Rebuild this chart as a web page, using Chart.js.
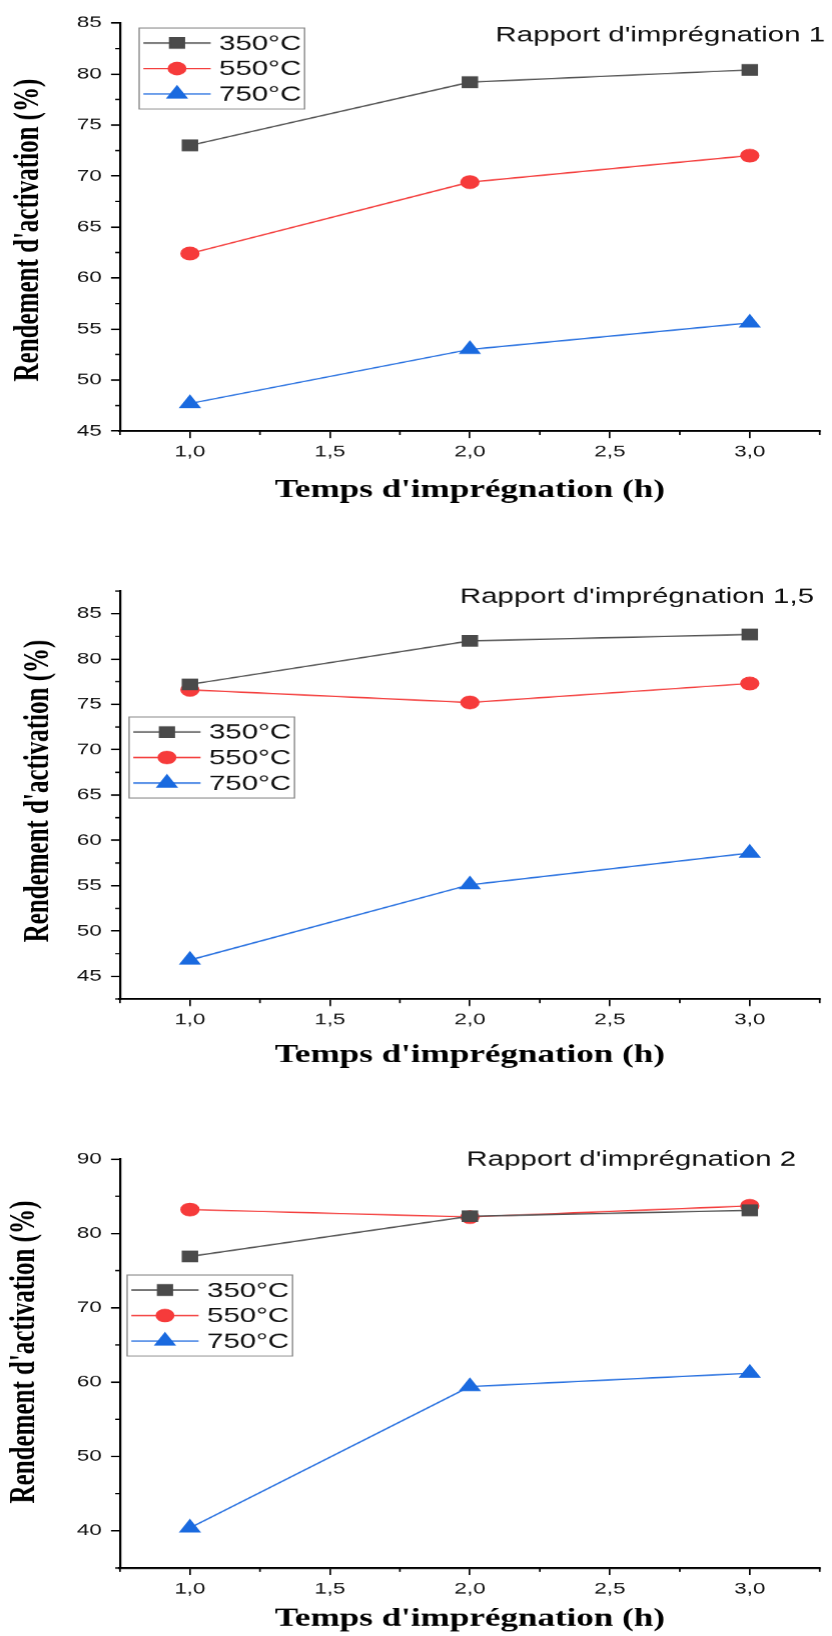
<!DOCTYPE html>
<html>
<head>
<meta charset="utf-8">
<script src="https://cdn.jsdelivr.net/npm/chart.js@4.4.0/dist/chart.umd.min.js"></script>
<style>
  html, body { margin: 0; padding: 0; background: #fff; width: 832px; height: 1636px; overflow: hidden; }
  /* the figure is drawn narrow and stretched sideways, like the original export */
  .panel { position: absolute; left: 0; transform: scaleX(1.4007); transform-origin: 0 0; }
</style>
</head>
<body>
<div class="panel" style="top:0"><canvas id="c1" width="594" height="530"></canvas></div>
<div class="panel" style="top:530px"><canvas id="c2" width="594" height="560"></canvas></div>
<div class="panel" style="top:1090px"><canvas id="c3" width="594" height="560"></canvas></div>
<script>
// impregnation time (h)
var hours = [1, 2, 3];
var seriesLabels = ["350°C", "550°C", "750°C"];

// activation yield (%) - ratio 1
var r1_350 = [73.0, 79.2, 80.4];
var r1_550 = [62.4, 69.4, 72.0];
var r1_750 = [47.7, 53.0, 55.6];

// ratio 1,5
var r15_350 = [77.2, 82.0, 82.7];
var r15_550 = [76.6, 75.2, 77.3];
var r15_750 = [46.8, 55.1, 58.6];

// ratio 2
var r2_350 = [76.9, 82.3, 83.1];
var r2_550 = [83.2, 82.2, 83.7];
var r2_750 = [40.4, 59.4, 61.2];

// axes
var xTicks = [1, 1.5, 2, 2.5, 3];
var xMinor = [0.75, 1.25, 1.75, 2.25, 2.75, 3.25];
var yTicks1 = [45, 50, 55, 60, 65, 70, 75, 80, 85];
var yMinor1 = [47.5, 52.5, 57.5, 62.5, 67.5, 72.5, 77.5, 82.5];
var yTicks2 = [45, 50, 55, 60, 65, 70, 75, 80, 85];
var yMinor2 = [42.5, 47.5, 52.5, 57.5, 62.5, 67.5, 72.5, 77.5, 82.5, 87.5];
var yTicks3 = [40, 50, 60, 70, 80, 90];
var yMinor3 = [35, 45, 55, 65, 75, 85];

var titles = ["Rapport d'imprégnation 1", "Rapport d'imprégnation 1,5", "Rapport d'imprégnation 2"];
var xTitle = "Temps d'imprégnation (h)";
var yTitle = "Rendement d'activation (%)";

// marker / line styles per series
var styles = [
  { line: "#555555", fill: "#4a4a4a", point: "rect", radius: 7.6 },
  { line: "#f4403f", fill: "#f63b3b", point: "circle", radius: 6.4 },
  { line: "#2a72e0", fill: "#1a6adf", point: "triangle", radius: 8.2 }
];

var sansFont = "'Liberation Sans', Arial, sans-serif";
var serifFont = "'Liberation Serif', 'Times New Roman', serif";

function toPoints(vals) {
  return hours.map(function (h, i) { return { x: h, y: vals[i] }; });
}

// minor ticks, y title, legend box and the panel caption
var extras = {
  id: "extras",
  afterDraw: function (chart, args, opts) {
    var ctx = chart.ctx;
    var area = chart.chartArea;
    var xs = chart.scales.x, ys = chart.scales.y;
    ctx.save();

    ctx.strokeStyle = "#000";
    ctx.lineWidth = 1.2;
    ctx.beginPath();
    xMinor.forEach(function (v) {
      var px = xs.getPixelForValue(v);
      ctx.moveTo(px, area.bottom);
      ctx.lineTo(px, area.bottom + 4);
    });
    ctx.stroke();
    ctx.lineWidth = 1.4;
    ctx.beginPath();
    opts.yMinor.forEach(function (v) {
      var py = ys.getPixelForValue(v);
      ctx.moveTo(area.left, py);
      ctx.lineTo(area.left - 3.4, py);
    });
    ctx.stroke();

    // rotated y title
    ctx.save();
    ctx.translate(opts.yTitle.x, opts.yTitle.y);
    ctx.rotate(-Math.PI / 2);
    ctx.font = "bold 25px " + serifFont;
    ctx.fillStyle = "#000";
    ctx.textAlign = "center";
    ctx.textBaseline = "middle";
    ctx.fillText(yTitle, 0, 0);
    ctx.restore();

    // legend
    var lg = opts.legend;
    ctx.strokeStyle = "#8a8a8a";
    ctx.lineWidth = 1;
    ctx.strokeRect(lg.left, lg.top, 118, 81);
    ctx.font = "21px " + sansFont;
    ctx.textBaseline = "middle";
    ctx.textAlign = "left";
    chart.data.datasets.forEach(function (ds, i) {
      var y = lg.top + 15 + i * 25.5;
      ctx.strokeStyle = ds.borderColor;
      ctx.lineWidth = 1.4;
      ctx.beginPath();
      ctx.moveTo(lg.left + 3, y);
      ctx.lineTo(lg.left + 51, y);
      ctx.stroke();
      ctx.fillStyle = ds.pointBackgroundColor;
      ctx.strokeStyle = ds.pointBorderColor;
      Chart.helpers.drawPoint(ctx, {
        pointStyle: ds.pointStyle, radius: ds.pointRadius * 0.95, rotation: 0, borderWidth: 1
      }, lg.left + 27, y);
      ctx.fillStyle = "#111";
      ctx.fillText(ds.label, lg.left + 57, y + 1);
    });

    // caption
    ctx.font = "21px " + sansFont;
    ctx.fillStyle = "#111";
    ctx.textAlign = "right";
    ctx.fillText(opts.caption.text, opts.caption.right, opts.caption.y);
    ctx.restore();
  }
};

function makeChart(id, series, yTicks, yMinor, yMin, yMax, layout, caption) {
  var datasets = series.map(function (vals, i) {
    var st = styles[i];
    return {
      label: seriesLabels[i],
      data: toPoints(vals),
      borderColor: st.line,
      borderWidth: 1.4,
      pointStyle: st.point,
      pointRadius: st.radius,
      pointBackgroundColor: st.fill,
      pointBorderColor: st.fill,
      pointBorderWidth: 1,
      tension: 0,
      clip: false
    };
  });

  return new Chart(document.getElementById(id), {
    type: "line",
    data: { datasets: datasets },
    plugins: [extras],
    options: {
      responsive: false,
      animation: false,
      devicePixelRatio: 1.4,
      layout: { padding: { top: layout.top, right: 2.6, bottom: 0, left: 0 } },
      plugins: {
        legend: { display: false },
        tooltip: { enabled: false },
        extras: { yMinor: yMinor, legend: layout.legend, caption: caption, yTitle: layout.yTitle }
      },
      scales: {
        x: {
          type: "linear",
          min: 0.75,
          max: 3.25,
          afterBuildTicks: function (s) { s.ticks = xTicks.map(function (v) { return { value: v }; }); },
          afterFit: function (s) { s.height = layout.xHeight; },
          ticks: {
            color: "#111",
            padding: 4.4,
            maxRotation: 0,
            font: { family: sansFont, size: 16 },
            callback: function (v) { return v.toFixed(1).replace(".", ","); }
          },
          grid: { drawOnChartArea: false, drawTicks: true, tickLength: 7, color: "#000", lineWidth: 1.2 },
          border: { display: true, color: "#000", width: 2 },
          title: {
            display: true,
            text: xTitle,
            color: "#000",
            font: { family: serifFont, size: 25, weight: "bold" },
            padding: { top: 0, bottom: layout.xTitlePad }
          }
        },
        y: {
          min: yMin,
          max: yMax,
          afterBuildTicks: function (s) { s.ticks = yTicks.map(function (v) { return { value: v }; }); },
          afterFit: function (s) { s.width = 85.6; },
          ticks: {
            color: "#111",
            padding: 6.6,
            font: { family: sansFont, size: 16 }
          },
          grid: { drawOnChartArea: false, drawTicks: true, tickLength: 6.4, color: "#000", lineWidth: 1.5 },
          border: { display: true, color: "#000", width: 1.6 }
        }
      }
    }
  });
}

makeChart("c1", [r1_350, r1_550, r1_750], yTicks1, yMinor1, 45, 85,
  { top: 23, xHeight: 99, xTitlePad: 24, yTitle: { x: 20.7, y: 230 }, legend: { left: 99.3, top: 28 } },
  { text: titles[0], right: 588.6, y: 35.5 });

makeChart("c2", [r15_350, r15_550, r15_750], yTicks2, yMinor2, 42.5, 87.5,
  { top: 61, xHeight: 91, xTitlePad: 19, yTitle: { x: 27.5, y: 261 }, legend: { left: 92.1, top: 187 } },
  { text: titles[1], right: 580.7, y: 67 });

makeChart("c3", [r2_350, r2_550, r2_750], yTicks3, yMinor3, 35, 90,
  { top: 69, xHeight: 82, xTitlePad: 16, yTitle: { x: 18, y: 262 }, legend: { left: 90.7, top: 185 } },
  { text: titles[2], right: 567.9, y: 70 });
</script>
</body>
</html>
